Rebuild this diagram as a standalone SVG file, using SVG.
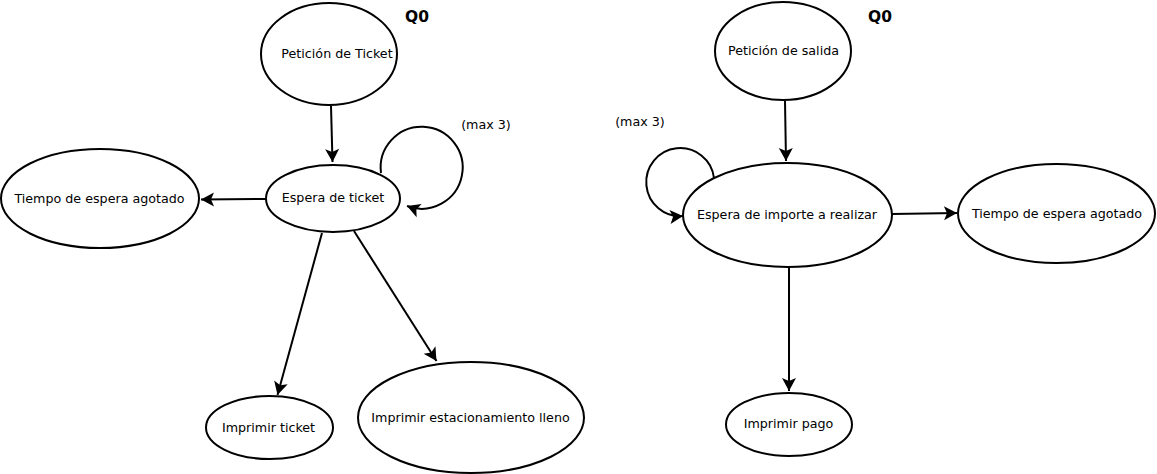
<svg xmlns="http://www.w3.org/2000/svg" width="1157" height="474" viewBox="0 0 1157 474">
<style>
  .node ellipse { fill: #ffffff; stroke: #000000; stroke-width: 2; }
  .node text, .lbl { font-family: "DejaVu Sans", sans-serif; font-size: 12.7px; fill: #000000; text-anchor: middle; }
  .q0 { font-family: "DejaVu Sans", sans-serif; font-size: 15.5px; font-weight: bold; fill: #000000; }
  .edge { fill: none; stroke: #000000; stroke-width: 2; marker-end: url(#arr); }
</style>
<defs>
  <marker id="arr" markerUnits="userSpaceOnUse" markerWidth="18" markerHeight="18" viewBox="-15 -9 18 18" refX="0" refY="0" orient="auto">
    <path d="M0,0 L-13,-7 L-10,0 L-13,7 Z" fill="#000000"/>
  </marker>
</defs>
<rect width="1157" height="474" fill="#ffffff"/>

<g id="connectors">
  <path class="edge" d="M331,106 L332.5,162"/>
  <path class="edge" d="M266,199 L201,199.5"/>
  <path class="edge" d="M322,233 L277.5,395"/>
  <path class="edge" d="M354,231 L436.5,361"/>
  <path class="edge" d="M381,173 A41,41 0 1 1 407,206"/>
  <path class="edge" d="M785,101 L786,161"/>
  <path class="edge" d="M892,214 L957,213"/>
  <path class="edge" d="M789,267 L789,391"/>
  <path class="edge" d="M714,178 A34,34 0 1 0 683,216"/>
</g>

<g id="q0-left"><text class="q0" x="405" y="22">Q0</text></g>
<g id="q0-right"><text class="q0" x="868" y="22">Q0</text></g>
<g id="max-left"><text class="lbl" x="486" y="129">(max 3)</text></g>
<g id="max-right"><text class="lbl" x="640" y="126">(max 3)</text></g>

<g id="peticion-ticket" class="node">
  <ellipse cx="329" cy="54" rx="68" ry="51"/>
  <text x="337" y="57.5">Petición de Ticket</text>
</g>
<g id="espera-ticket" class="node">
  <ellipse cx="333" cy="198.5" rx="67" ry="33.5"/>
  <text x="333" y="202">Espera de ticket</text>
</g>
<g id="tiempo-left" class="node">
  <ellipse cx="100" cy="198.5" rx="99" ry="49.5"/>
  <text x="99.5" y="203">Tiempo de espera agotado</text>
</g>
<g id="imprimir-ticket" class="node">
  <ellipse cx="269.5" cy="427.5" rx="63.5" ry="31.5"/>
  <text x="268.5" y="432">Imprimir ticket</text>
</g>
<g id="imprimir-lleno" class="node">
  <ellipse cx="471" cy="417.5" rx="113" ry="55.5"/>
  <text x="470.5" y="421.5">Imprimir estacionamiento lleno</text>
</g>

<g id="peticion-salida" class="node">
  <ellipse cx="783" cy="51" rx="68" ry="49"/>
  <text x="783.5" y="55">Petición de salida</text>
</g>
<g id="espera-importe" class="node">
  <ellipse cx="787.5" cy="215" rx="104.5" ry="52"/>
  <text x="787" y="219">Espera de importe a realizar</text>
</g>
<g id="tiempo-right" class="node">
  <ellipse cx="1056.5" cy="213.5" rx="98.5" ry="49.5"/>
  <text x="1057" y="218">Tiempo de espera agotado</text>
</g>
<g id="imprimir-pago" class="node">
  <ellipse cx="789" cy="424.5" rx="63" ry="31.5"/>
  <text x="788.5" y="428">Imprimir pago</text>
</g>
</svg>
